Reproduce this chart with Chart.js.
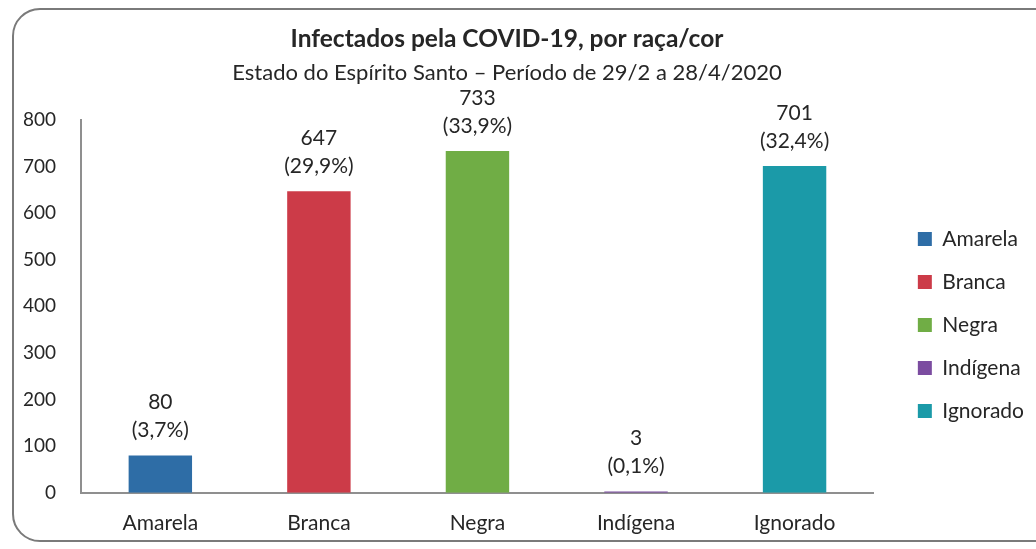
<!DOCTYPE html>
<html>
<head>
<meta charset="utf-8">
<script src="https://cdn.jsdelivr.net/npm/chart.js@4.4.0/dist/chart.umd.min.js"></script>
<style>
  html, body { margin: 0; padding: 0; background: #fff; }
  #wrap { position: relative; width: 1036px; height: 549px; overflow: hidden; }
  #frame {
    position: absolute; left: 12px; top: 8px; width: 1060px; height: 534px;
    border: 2px solid #7a7a7a; border-radius: 28px; box-sizing: border-box;
  }
  #chart { position: absolute; left: 0; top: 0; }
</style>
</head>
<body>
<div id="wrap">
  <div id="frame"></div>
  <canvas id="chart" width="1036" height="549"></canvas>
</div>
<script>
const categorias = ['Amarela', 'Branca', 'Negra', 'Indígena', 'Ignorado'];
const infectados = [80, 647, 733, 3, 701];
const percentuais = ['3,7%', '29,9%', '33,9%', '0,1%', '32,4%'];
const cores = ['#2e6da6', '#cc3b48', '#70ad45', '#7b4ca0', '#1b9aa8'];

const fonte = 'Lato, "Open Sans", sans-serif';
const corTexto = '#262626';

// rótulos "valor (percentual)" acima de cada barra
const rotulosBarras = {
    id: 'rotulosBarras',
    afterDatasetsDraw(chart) {
        const ctx = chart.ctx;
        const meta = chart.getDatasetMeta(0);
        ctx.save();
        ctx.font = '21px ' + fonte;
        ctx.fillStyle = corTexto;
        ctx.textAlign = 'center';
        ctx.textBaseline = 'middle';
        meta.data.forEach((bar, i) => {
            ctx.fillText(String(infectados[i]), bar.x, bar.y - 53);
            ctx.fillText('(' + percentuais[i] + ')', bar.x, bar.y - 25);
        });
        ctx.restore();
    },
};

new Chart(document.getElementById('chart'), {
    type: 'bar',
    data: {
        labels: categorias,
        datasets: [{
            data: infectados,
            backgroundColor: cores,
            borderWidth: 0,
            categoryPercentage: 1,
            barPercentage: 0.4,
        }],
    },
    options: {
        responsive: false,
        animation: false,
        layout: { padding: { left: -20, right: 2, top: 24, bottom: -5 } },
        plugins: {
            title: {
                display: true,
                text: 'Infectados pela COVID-19, por raça/cor',
                color: corTexto,
                font: { family: fonte, size: 24.5, weight: 'bold' },
                padding: { top: 0, bottom: 6 },
            },
            subtitle: {
                display: true,
                text: 'Estado do Espírito Santo – Período de 29/2 a 28/4/2020',
                color: corTexto,
                font: { family: fonte, size: 22 },
                padding: { top: 0, bottom: 34 },
            },
            legend: {
                position: 'right',
                // título vazio só para descer os itens da legenda
                title: { display: true, text: '', font: { size: 10 }, padding: { top: 0, bottom: 60 } },
                labels: {
                    color: corTexto,
                    font: { family: fonte, size: 21 },
                    boxWidth: 14,
                    boxHeight: 14,
                    padding: 22,
                    generateLabels: () => categorias.map((c, i) => ({
                        text: c,
                        fillStyle: cores[i],
                        strokeStyle: cores[i],
                        fontColor: corTexto,
                        lineWidth: 0,
                        hidden: false,
                        index: i,
                    })),
                },
            },
            tooltip: { enabled: false },
        },
        scales: {
            x: {
                grid: { display: false, drawTicks: false },
                border: { display: true, color: '#8f8f8f', width: 2 },
                ticks: { color: corTexto, font: { family: fonte, size: 21 }, padding: 18 },
            },
            y: {
                min: 0,
                max: 800,
                grid: { display: false, drawTicks: false },
                border: { display: true, color: '#8f8f8f', width: 2 },
                ticks: { stepSize: 100, color: corTexto, font: { family: fonte, size: 19 }, padding: 25 },
                afterFit(scale) { scale.width += 18; },
            },
            // eixo vazio: só abre espaço entre as barras e a legenda
            espaco: {
                type: 'linear',
                position: 'right',
                grid: { display: false, drawTicks: false },
                border: { display: false },
                ticks: { display: false },
                afterFit(scale) { scale.width = 22; },
            },
        },
    },
    plugins: [rotulosBarras],
});
</script>
</body>
</html>
